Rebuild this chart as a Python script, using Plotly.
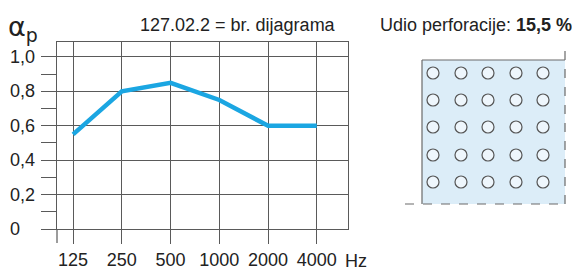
import plotly.graph_objects as go

# ---- data ----
freqs = ["125", "250", "500", "1000", "2000", "4000"]
alpha_p = [0.55, 0.80, 0.85, 0.75, 0.60, 0.60]
y_ticks = [0, 0.2, 0.4, 0.6, 0.8, 1.0]
y_tick_labels = ["0", "0,2", "0,4", "0,6", "0,8", "1,0"]
title_text = "127.02.2 = br. dijagrama"
perf_label = "Udio perforacije: <b>15,5 %</b>"

# ---- layout geometry (screen pixels; page body has an 8px margin) ----
OFF = 8
SW, SH = 580, 271
L, R, T, B = 57, 348, 42, 229
def px(x):
    return (x - L) / (R - L)
def py(y):
    return (B - y) / (B - T)

GRID = "#5a5a5a"
TXT = "#222222"
FONT = "Liberation Sans, Arial, sans-serif"

fig = go.Figure()
fig.add_trace(go.Scatter(
    x=freqs, y=alpha_p, mode="lines",
    line=dict(color="#1ba6e2", width=4.5),
    hoverinfo="skip", showlegend=False,
))

shapes = []
# left border extension below the zero line
shapes.append(dict(type="line", xref="paper", yref="paper",
                   x0=0, x1=0, y0=py(229), y1=py(243),
                   line=dict(color=GRID, width=1.2)))

# perforated panel illustration
shapes.append(dict(type="rect", xref="paper", yref="paper",
                   x0=px(422), x1=px(565), y0=py(204), y1=py(60),
                   fillcolor="#dcedf8", line=dict(width=0), layer="below"))
shapes.append(dict(type="line", xref="paper", yref="paper",
                   x0=px(422), x1=px(422), y0=py(204), y1=py(60),
                   line=dict(color="#6a6a6a", width=1.2)))
shapes.append(dict(type="line", xref="paper", yref="paper",
                   x0=px(422), x1=px(565), y0=py(60), y1=py(60),
                   line=dict(color="#6a6a6a", width=1.2)))
shapes.append(dict(type="line", xref="paper", yref="paper",
                   x0=px(565), x1=px(565), y0=py(204), y1=py(48),
                   line=dict(color="#6a6a6a", width=1.2, dash="dash")))
shapes.append(dict(type="line", xref="paper", yref="paper",
                   x0=px(405), x1=px(565), y0=py(204), y1=py(204),
                   line=dict(color="#6a6a6a", width=1.2, dash="dash")))
hole_cols = [433, 461, 488, 516, 543]
hole_rows = [73, 100, 127, 155, 182]
hr = 6
for cy in hole_rows:
    for cx in hole_cols:
        shapes.append(dict(type="circle", xref="paper", yref="paper",
                           x0=px(cx - hr), x1=px(cx + hr),
                           y0=py(cy + hr), y1=py(cy - hr),
                           fillcolor="#eef6fc",
                           line=dict(color="#555555", width=1.2)))

annotations = []
for v, t in zip(y_ticks, y_tick_labels):
    annotations.append(dict(text=t, x=px(8), y=v, xref="paper", yref="y",
                            xanchor="left", yanchor="middle", showarrow=False,
                            font=dict(size=18, color=TXT, family=FONT)))
annotations.append(dict(text=title_text, x=px(237.5), y=py(25),
                        xref="paper", yref="paper", xanchor="center",
                        yanchor="middle", showarrow=False,
                        font=dict(size=18, color=TXT, family=FONT)))
annotations.append(dict(text=perf_label, x=px(475.5), y=py(25),
                        xref="paper", yref="paper", xanchor="center",
                        yanchor="middle", showarrow=False,
                        font=dict(size=18, color=TXT, family=FONT)))
annotations.append(dict(text="α<sub>p</sub>", x=px(6), y=py(29),
                        xref="paper", yref="paper", xanchor="left",
                        yanchor="middle", showarrow=False,
                        font=dict(size=27, color=TXT, family="DejaVu Sans, sans-serif")))
annotations.append(dict(text="Hz", x=px(343), y=py(261),
                        xref="paper", yref="paper", xanchor="left",
                        yanchor="middle", showarrow=False,
                        font=dict(size=18, color=TXT, family=FONT)))

fig.update_layout(
    width=SW - OFF, height=SH - OFF,
    margin=dict(l=L - OFF, r=SW - R, t=T - OFF, b=SH - B, pad=0),
    paper_bgcolor="white", plot_bgcolor="white",
    shapes=shapes, annotations=annotations,
    xaxis=dict(type="category", range=[-0.33, 5.64], automargin=False,
               showgrid=True, gridcolor=GRID, gridwidth=1.2,
               ticks="outside", ticklen=14, tickcolor=GRID, tickwidth=1.2,
               ticklabelstandoff=0,
               tickfont=dict(size=18, color=TXT, family=FONT),
               showline=True, linecolor=GRID, linewidth=1.2, mirror=True,
               zeroline=False, fixedrange=True),
    yaxis=dict(range=[0, 1.087], tickvals=y_ticks, showticklabels=False,
               automargin=False,
               showgrid=True, gridcolor=GRID, gridwidth=1.2,
               ticks="outside", ticklen=15, tickcolor=GRID, tickwidth=1.2,
               minor=dict(dtick=0.1, tick0=0, ticks="outside", ticklen=15,
                          tickcolor=GRID, tickwidth=1.2, showgrid=False),
               showline=True, linecolor=GRID, linewidth=1.2, mirror=True,
               zeroline=False, fixedrange=True),
)

fig.write_html("out.html")
